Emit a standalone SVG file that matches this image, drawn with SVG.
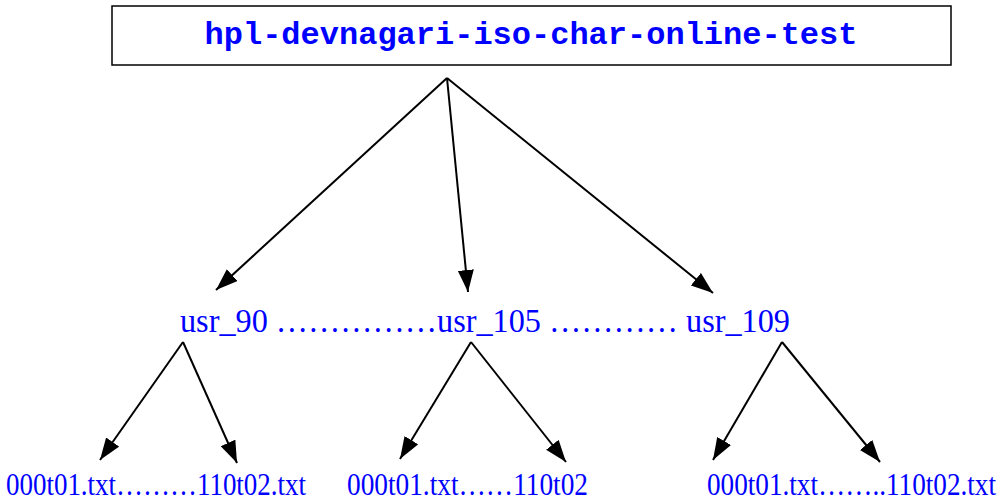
<svg xmlns="http://www.w3.org/2000/svg" width="1003" height="501" viewBox="0 0 1003 501">
<style>
.lbl{font-family:"Liberation Serif","Times New Roman",serif;fill:#0000ff}
.ttl{font-family:"Liberation Mono","Courier New",monospace;font-weight:bold;fill:#0000ff;font-size:32px}
.edge{stroke:#000;stroke-width:2;fill:none;marker-end:url(#ah)}
</style>
<defs>
<marker id="ah" markerUnits="userSpaceOnUse" markerWidth="24" markerHeight="18" refX="22" refY="8" orient="auto">
<path d="M0,0 L22,8 L0,16 z" fill="#000"/>
</marker>
</defs>
<rect width="1003" height="501" fill="#fff"/>
<g id="root">
<rect x="112" y="6" width="839" height="59" fill="#fff" stroke="#000" stroke-width="1.5"/>
<text class="ttl" x="531" y="44" text-anchor="middle">hpl-devnagari-iso-char-online-test</text>
</g>
<g id="users">
<text class="lbl" x="180" y="332" font-size="34" textLength="610" lengthAdjust="spacingAndGlyphs">usr_90 ……………usr_105 ………… usr_109</text>
</g>
<g id="files90">
<text class="lbl" x="6" y="495" font-size="32" textLength="300" lengthAdjust="spacingAndGlyphs">000t01.txt………110t02.txt</text>
</g>
<g id="files105">
<text class="lbl" x="347" y="495" font-size="32" textLength="241" lengthAdjust="spacingAndGlyphs">000t01.txt……110t02</text>
</g>
<g id="files109">
<text class="lbl" x="707" y="495" font-size="32" textLength="289" lengthAdjust="spacingAndGlyphs">000t01.txt……..110t02.txt</text>
</g>
<g id="connectors">
<line class="edge" x1="447" y1="78" x2="216" y2="290"/>
<line class="edge" x1="447" y1="78" x2="468" y2="292"/>
<line class="edge" x1="447" y1="78" x2="713" y2="293"/>
<line class="edge" x1="183" y1="342" x2="100" y2="460"/>
<line class="edge" x1="183" y1="342" x2="237" y2="463"/>
<line class="edge" x1="471" y1="342" x2="400" y2="459"/>
<line class="edge" x1="471" y1="342" x2="566" y2="462"/>
<line class="edge" x1="782" y1="342" x2="713" y2="460"/>
<line class="edge" x1="782" y1="342" x2="880" y2="462"/>
</g>
</svg>
